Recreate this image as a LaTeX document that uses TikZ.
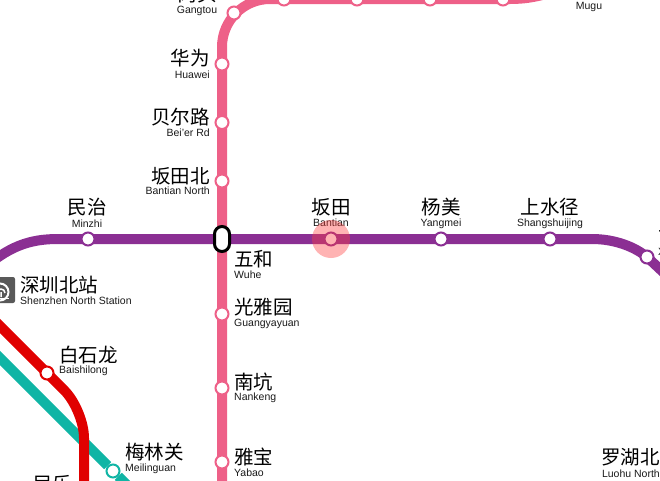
\documentclass[tikz,border=0pt]{standalone}
\usepackage{fontspec}
\setmainfont{Liberation Sans}
\newfontfamily\cjk{Noto Sans CJK SC}
\usetikzlibrary{backgrounds}
\definecolor{lineten}{HTML}{EE6088}
\definecolor{linefive}{HTML}{8B2F93}
\definecolor{linefour}{HTML}{E00000}
\definecolor{linenine}{HTML}{10B5A5}
\tikzset{
  route/.style  = {line width=10pt},
  stn/.style    = {circle, draw=#1, fill=white, line width=2pt, minimum size=13pt, inner sep=0},
  swap/.style   = {rectangle, rounded corners=7.5pt, draw=black, fill=white, line width=3pt, minimum width=15pt, minimum height=25pt, inner sep=0},
  zh/.style     = {font=\cjk\fontsize{19.5}{19.5}\selectfont, inner sep=0, text=black},
  en/.style     = {font=\fontsize{10.5}{10.5}\selectfont, inner sep=0, text=black!90, yshift=-1pt},
  here/.style   = {circle, fill=red!75!white, opacity=0.4, minimum size=38pt, inner sep=0},
  logo/.style   = {white, line width=2pt}
}

\begin{document}
\begin{tikzpicture}[x=1pt, y=-1pt]
  \clip (0,0) rectangle (660,480);

  % ---------- stations, line 10 ----------
  \node[stn=lineten] (gangtou) at (234,13) {};
  \node[stn=lineten] (s284) at (284,-1) {};
  \node[stn=lineten] (s357) at (357,-1) {};
  \node[stn=lineten] (s430) at (430,-1) {};
  \node[stn=lineten] (s503) at (503,-1) {};
  \node[stn=lineten] (huawei) at (222,64) {};
  \node[stn=lineten] (beier) at (222,122.5) {};
  \node[stn=lineten] (btnorth) at (222,181) {};
  \node[stn=lineten] (guangya) at (222,314) {};
  \node[stn=lineten] (nankeng) at (222,388) {};
  \node[stn=lineten] (yabao) at (222,462) {};
  \coordinate (tenbot) at (222,490);
  \coordinate (tenbend) at (222,-1);
  \coordinate (tenflat) at (510,-1);
  \coordinate (tenend) at (565,-12);

  % ---------- stations, line 5 ----------
  \node[stn=linefive] (minzhi) at (88,239) {};
  \node[stn=linefive] (bantian) at (331,239) {};
  \node[stn=linefive] (yangmei) at (441,239) {};
  \node[stn=linefive] (shangshui) at (550,239) {};
  \node[stn=linefive] (xiashui) at (647,257) {};
  \node[swap] (wuhe) at (222,239) {};
  \coordinate (fiveleft) at (-20,272);
  \coordinate (fiveflat) at (58,239);
  \coordinate (fivertop) at (592,239);
  \coordinate (fiveright) at (680,288);

  % ---------- stations, lines 4 and 9 ----------
  \node[stn=linefour] (baishi) at (47,373) {};
  \node[stn=linenine] (meilin) at (113,471) {};
  \coordinate (fourtop) at (-10,316);
  \coordinate (fourbend) at (84,410);
  \coordinate (fourbot) at (84,490);
  \coordinate (ninetop) at (-10,348);
  \coordinate (ninebot) at (140,498);

  \begin{scope}[on background layer]
    \draw[route, linenine] (ninetop) -- (meilin) -- (ninebot);
    \draw[route, linefour, rounded corners=28pt] (fourtop) -- (fourbend) -- (fourbot);
    \draw[route, lineten, rounded corners=48pt] (tenbot) -- (tenbend) -- (tenflat);
    \draw[route, lineten] (tenflat) .. controls (525,-1) and (540,-3) .. (tenend);
    \draw[route, linefive] (fiveleft) .. controls (8,246) and (30,239) .. (fiveflat) -- (fivertop)
      .. controls (615,239) and (635,247) .. (xiashui.center) -- (fiveright);
  \end{scope}

  % ---------- labels ----------
  \node[zh] (l-gang) at (197,-6) {岗头};
  \node[en] (e-gang) at (197,10) {Gangtou};
  \node[en] (e-mugu) at (589,6) {Mugu};

  \node[zh, anchor=east] (l-hua) at (210,58) {华为};
  \node[en, anchor=east] (e-hua) at (210,74) {Huawei};
  \node[zh, anchor=east] (l-bei) at (210,117) {贝尔路};
  \node[en, anchor=east] (e-bei) at (210,132) {Bei'er Rd};
  \node[zh, anchor=east] (l-btn) at (210,176) {坂田北};
  \node[en, anchor=east] (e-btn) at (210,190) {Bantian North};

  \node[zh] (l-min) at (87,207) {民治};
  \node[en] (e-min) at (87,223) {Minzhi};
  \node[zh] (l-ban) at (331,207) {坂田};
  \node[en] (e-ban) at (331,222) {Bantian};
  \node[zh] (l-yan) at (441,207) {杨美};
  \node[en] (e-yan) at (441,223) {Yangmei};
  \node[zh] (l-sha) at (550,207) {上水径};
  \node[en] (e-sha) at (550,223) {Shangshuijing};
  \node[zh, anchor=west] (l-xia) at (658,238) {下水径};
  \node[en, anchor=west] (e-xia) at (658,252) {Xiashuijing};

  \node[zh, anchor=west] (l-wu) at (234,259) {五和};
  \node[en, anchor=west] (e-wu) at (234,274) {Wuhe};
  \node[zh, anchor=west] (l-gua) at (234,307) {光雅园};
  \node[en, anchor=west] (e-gua) at (234,323) {Guangyayuan};
  \node[zh, anchor=west] (l-nan) at (234,382) {南坑};
  \node[en, anchor=west] (e-nan) at (234,397) {Nankeng};
  \node[zh, anchor=west] (l-yab) at (234,457) {雅宝};
  \node[en, anchor=west] (e-yab) at (234,472) {Yabao};

  \node[zh, anchor=west] (l-bsl) at (59,355) {白石龙};
  \node[en, anchor=west] (e-bsl) at (59,370) {Baishilong};
  \node[zh, anchor=west] (l-mlg) at (125,452) {梅林关};
  \node[en, anchor=west] (e-mlg) at (125,468) {Meilinguan};
  \node[zh, anchor=west] (l-lmin) at (33,484) {民乐};
  \node[zh, anchor=east] (l-luo) at (660,457) {罗湖北};
  \node[en, anchor=east] (e-luo) at (660,473) {Luohu North};

  % Shenzhen North
  \node[rectangle, rounded corners=2pt, fill=black!65, minimum width=26pt, minimum height=26pt, inner sep=0] (icon) at (2,290) {};
  \draw[logo] (-6,298) arc[start angle=-135, end angle=135, radius=8.5pt];
  \draw[logo, line width=1.5pt] (1,297) -- (1,292) (-3,293) arc[start angle=180, end angle=0, radius=4pt];
  \draw[logo, line width=1.5pt] (-7,298.5) -- (9,298.5);
  \node[zh, anchor=west] (l-szn) at (20,285) {深圳北站};
  \node[en, anchor=west] (e-szn) at (20,300) {Shenzhen North Station};

  % current station
  \node[here] (mark) at (bantian) {};

\end{tikzpicture}
\end{document}
